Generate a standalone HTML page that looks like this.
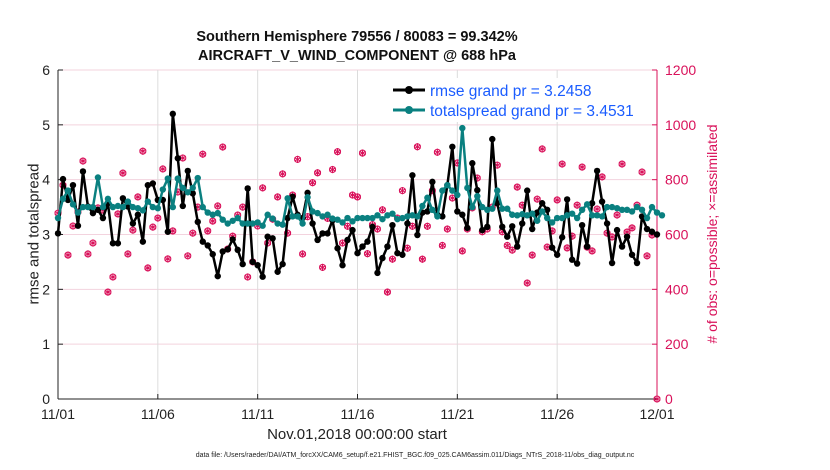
<!DOCTYPE html>
<html><head><meta charset="utf-8"><style>
body{margin:0;background:#fff;}
svg{display:block;font-family:"Liberation Sans",sans-serif;}
</style></head><body>
<svg id="c" width="830" height="470"></svg>
<script>
const rmse=[3.02,4.01,3.63,3.9,3.16,4.15,3.51,3.39,3.45,3.3,3.57,2.84,2.84,3.66,3.51,3.2,3.36,2.87,3.9,3.93,3.63,3.63,3.05,5.2,4.39,3.52,4.16,3.75,3.23,2.87,2.8,
2.64,2.24,2.69,2.73,2.91,2.72,2.46,3.84,2.5,2.44,2.23,2.96,2.93,2.32,2.46,3.3,3.69,3.36,3.3,3.76,3.2,2.9,3.02,3.02,3.26,2.75,2.44,2.9,3.08,
2.66,2.78,2.87,3.14,2.3,2.57,2.78,3.17,2.66,2.63,3.2,4.08,2.99,3.4,3.42,3.96,3.36,3.33,3.9,4.6,3.42,3.36,3.12,4.3,3.81,3.08,3.14,4.74,3.57,3.14,2.96,
3.15,2.78,3.2,3.8,3.1,3.4,3.57,3.45,2.76,2.63,2.95,3.64,2.54,2.47,3.17,2.78,3.57,4.16,3.6,3.2,2.48,3.08,2.78,2.96,2.63,2.48,3.33,3.1,3.05,3.0];
const spread=[3.3,3.65,3.8,3.55,3.4,3.5,3.5,3.5,4.04,3.5,3.65,3.5,3.52,3.5,3.6,3.5,3.48,3.44,3.6,3.5,3.48,3.82,4.02,3.5,4.02,3.85,3.77,3.85,4.03,3.5,3.4,
3.36,3.39,3.27,3.2,3.25,3.3,3.2,3.2,3.2,3.22,3.16,3.36,3.29,3.2,3.18,3.66,3.33,3.33,3.2,3.68,3.42,3.39,3.33,3.36,3.29,3.27,3.22,3.3,3.24,
3.3,3.3,3.3,3.3,3.35,3.28,3.35,3.38,3.28,3.3,3.33,3.35,3.33,3.52,3.67,3.45,3.33,3.8,3.9,3.8,3.72,4.94,3.85,3.5,3.7,3.5,3.45,3.47,3.8,3.47,3.47,
3.36,3.35,3.37,3.35,3.38,3.25,3.42,3.3,3.22,3.3,3.3,3.35,3.38,3.3,3.45,3.55,3.35,3.35,3.33,3.5,3.5,3.48,3.45,3.45,3.42,3.5,3.45,3.3,3.5,3.4,3.35];
const nobs=[678,780,525,631,682,868,529,569,697,689,390,445,675,824,529,616,737,904,478,627,660,839,511,613,755,879,522,605,700,893,613,
649,704,919,547,594,671,700,445,500,631,770,569,656,737,821,605,744,874,529,665,789,825,480,659,837,902,569,630,744,
737,897,530,636,620,690,390,510,660,760,550,630,920,510,630,760,900,560,620,733,861,540,620,697,806,610,620,700,853,610,560,
543,773,707,423,525,729,912,554,613,726,857,551,594,707,846,554,540,693,810,605,591,671,857,609,624,707,828,522,598,0];
const xTicks=["11/01","11/06","11/11","11/16","11/21","11/26","12/01"];
const yTicks=[0,1,2,3,4,5,6];
const y2Ticks=[0,200,400,600,800,1000,1200];
const X0=58,X1=657,Y0=399,Y1=70;
const xs=i=>X0+(X1-X0)*i/120;
const ys=v=>Y0-(Y0-Y1)*v/6;
const ys2=v=>Y0-(Y0-Y1)*v/1200;
const svg=document.getElementById('c');const NS='http://www.w3.org/2000/svg';
function mk(t,a,p){const e=document.createElementNS(NS,t);for(const k in a)e.setAttribute(k,a[k]);(p||svg).appendChild(e);return e;}
const MG='#d9115a';
yTicks.forEach(v=>{const l=mk('line',{x1:X0,x2:X1,y1:ys(v),y2:ys(v),stroke:'#f3d3de','stroke-width':1});

});
xTicks.forEach((t,k)=>{const x=X0+(X1-X0)*k/6;const l=mk('line',{x1:x,x2:x,y1:Y1,y2:Y0,stroke:'#dcdcdc','stroke-width':1});


const tx=mk('text',{x:x,y:Y0+20,'text-anchor':'middle','font-size':14,fill:'#222'});tx.textContent=t;


mk('line',{x1:x,x2:x,y1:Y0,y2:Y0-5,stroke:'#222'});});
yTicks.forEach(v=>{const tx=mk('text',{x:X0-8,y:ys(v)+5,'text-anchor':'end','font-size':14,fill:'#222'});tx.textContent=v;


mk('line',{x1:X0,x2:X0+5,y1:ys(v),y2:ys(v),stroke:'#222'});});
y2Ticks.forEach(v=>{const tx=mk('text',{x:X1+8,y:ys2(v)+5,'font-size':14,fill:MG});tx.textContent=v;


mk('line',{x1:X1-5,x2:X1,y1:ys2(v),y2:ys2(v),stroke:MG});});
mk('line',{x1:X0,x2:X0,y1:Y1,y2:Y0,stroke:'#222'});
mk('line',{x1:X0,x2:X1,y1:Y0,y2:Y0,stroke:'#222'});
mk('line',{x1:X1,x2:X1,y1:Y1,y2:Y0,stroke:MG});
nobs.forEach((v,i)=>{const g=mk('g',{stroke:MG,'stroke-width':1.1,fill:'none'});


const x=xs(i),y=ys2(v);mk('circle',{cx:x,cy:y,r:3.0},g);
for(let a=0;a<3;a++){const an=a*Math.PI/3+Math.PI/2;mk('line',{x1:x-3.6*Math.cos(an),y1:y-3.6*Math.sin(an),x2:x+3.6*Math.cos(an),y2:y+3.6*Math.sin(an)},g);}});
function series(arr,col,name,r){const p=mk('polyline',{points:arr.map((v,i)=>xs(i)+','+ys(v)).join(' '),fill:'none',stroke:col,'stroke-width':2.5,'stroke-linejoin':'round'});


arr.forEach((v,i)=>{const c=mk('circle',{cx:xs(i),cy:ys(v),r:r,fill:col});

});}
series(rmse,'#000','rmse',3.2);
series(spread,'#0a8080','totalspread',3.2);
</script>
<script>
(function(){const svg=document.getElementById('c');const NS='http://www.w3.org/2000/svg';
function mk(t,a){const e=document.createElementNS(NS,t);for(const k in a)e.setAttribute(k,a[k]);svg.appendChild(e);return e;}
const bg=mk('rect',{x:388,y:78,width:254,height:44,fill:'#fff'});


[['rmse grand pr = 3.2458','#000',90],['totalspread grand pr = 3.4531','#0a8080',110]].forEach(d=>{
mk('line',{x1:393,x2:425,y1:d[2],y2:d[2],stroke:d[1],'stroke-width':3});
mk('circle',{cx:409,cy:d[2],r:4,fill:d[1]});
const t=mk('text',{x:430,y:d[2]+6,'font-size':15.5,fill:'#1a5cff'});t.textContent=d[0];

});
})();
</script>
<div style="position:absolute;left:0;top:0;width:830px;height:470px;pointer-events:none;font-family:'Liberation Sans',sans-serif;">
<div style="position:absolute;left:0;width:714px;top:28px;text-align:center;font-weight:bold;font-size:14.5px;line-height:19px;color:#111;">Southern Hemisphere 79556 / 80083 = 99.342%<br>AIRCRAFT_V_WIND_COMPONENT @ 688 hPa</div>
<div style="position:absolute;left:0;width:714px;top:426px;text-align:center;font-size:15px;color:#222;">Nov.01,2018 00:00:00 start</div>
<div style="position:absolute;left:34px;top:234px;transform:translate(-50%,-50%) rotate(-90deg);white-space:nowrap;font-size:15px;color:#222;">rmse and totalspread</div>
<div style="position:absolute;left:712px;top:234px;transform:translate(-50%,-50%) rotate(-90deg);white-space:nowrap;font-size:14px;color:#d9115a;"># of obs: o=possible; ×=assimilated</div>
<div style="position:absolute;left:0;width:830px;top:452px;text-align:center;font-size:7px;color:#222;">data file: /Users/raeder/DAI/ATM_forcXX/CAM6_setup/f.e21.FHIST_BGC.f09_025.CAM6assim.011/Diags_NTrS_2018-11/obs_diag_output.nc</div>
</div>
</body></html>
